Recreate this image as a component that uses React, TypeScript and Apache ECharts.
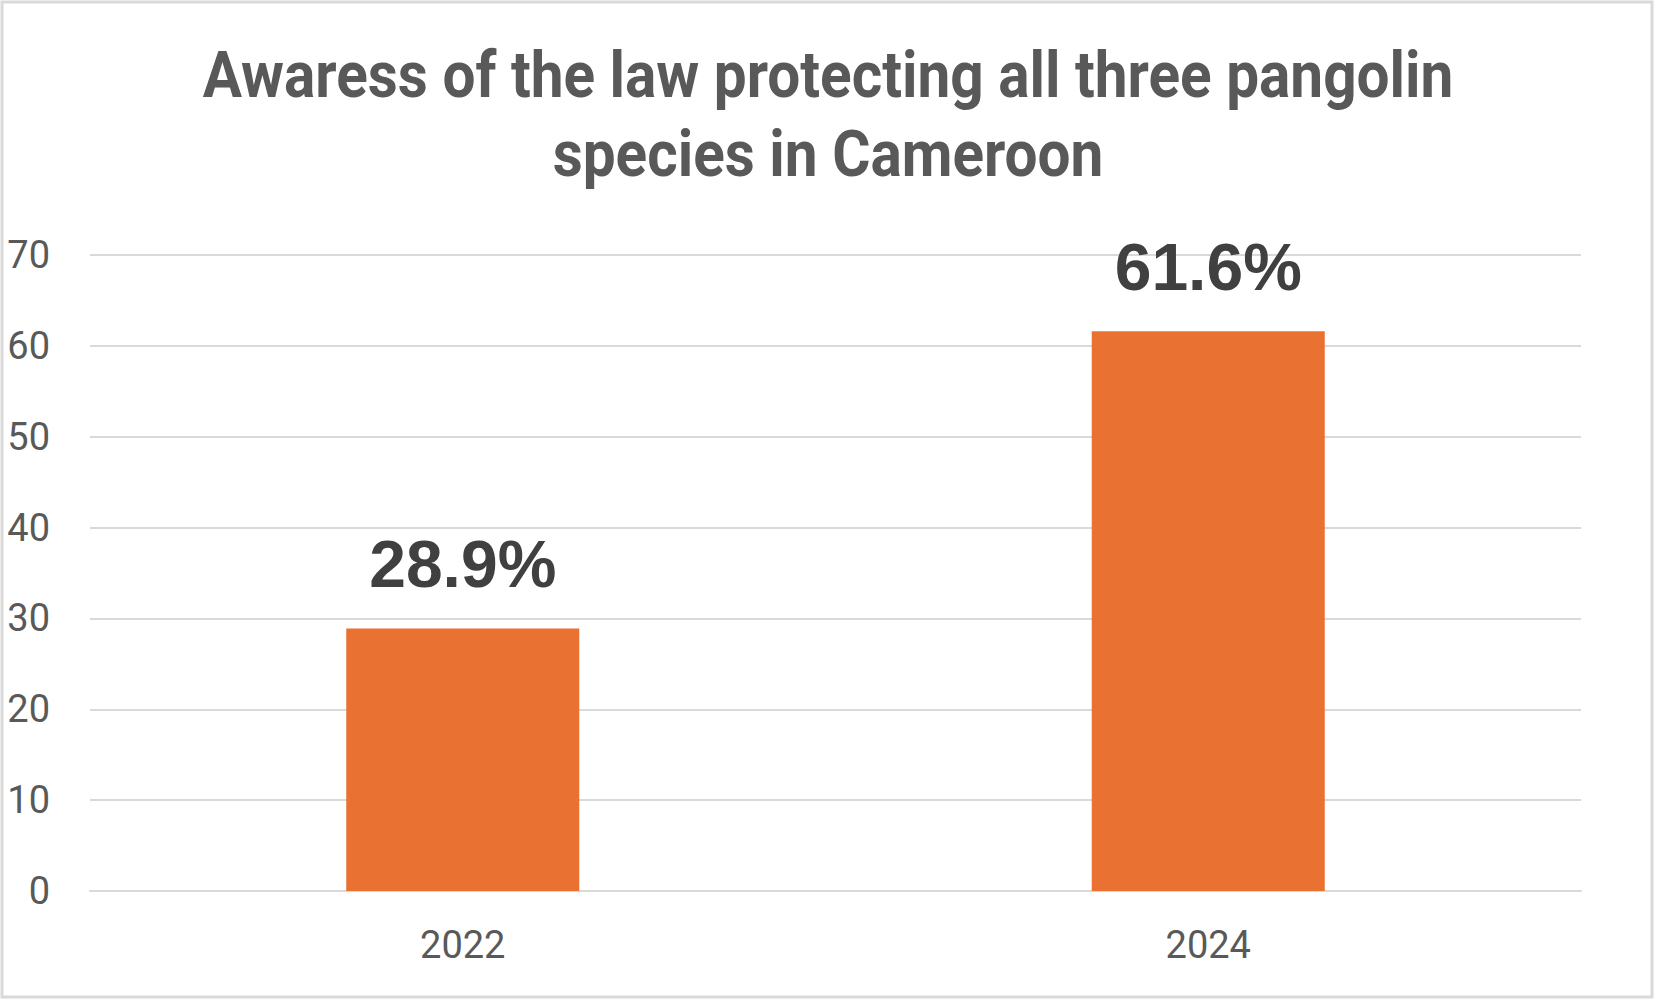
import React, { useEffect, useRef } from "react";
import * as echarts from "echarts";

const categories = ["2022", "2024"];
const awareness = [28.9, 61.6];
const yTicks = { min: 0, max: 70, interval: 10 };
const titleLines = ["Awaress of the law protecting all three pangolin", "species in Cameroon"];

export default function App() {
  const ref = useRef<HTMLDivElement>(null);
  useEffect(() => {
    document.body.style.margin = "0";
    const chart = echarts.init(ref.current!, undefined, { renderer: "svg" });
    const titleStyle = {
      fontFamily: "Roboto",
      fontWeight: "bold",
      fontSize: 65,
      fill: "#595959",
      textAlign: "center",
      textVerticalAlign: "middle",
    };
    chart.setOption({
      animation: false,
      backgroundColor: "#ffffff",
      graphic: [
        {
          type: "rect",
          shape: { x: 2, y: 2, width: 1650, height: 995 },
          style: { fill: "none", stroke: "#D9D9D9", lineWidth: 3 },
          silent: true,
        },
        {
          type: "text",
          x: 828,
          y: 75,
          scaleX: 0.9,
          style: { ...titleStyle, text: titleLines[0] },
        },
        {
          type: "text",
          x: 828,
          y: 154,
          scaleX: 0.9,
          style: { ...titleStyle, text: titleLines[1] },
        },
      ],
      grid: { left: 90, right: 78, top: 255, bottom: 108, containLabel: false },
      xAxis: {
        type: "category",
        data: categories,
        axisLine: { show: true, lineStyle: { color: "#D9D9D9", width: 2 } },
        axisTick: { show: false },
        axisLabel: {
          margin: 35,
          fontSize: 38,
          color: "#595959",
          fontFamily: "Roboto",
        },
      },
      yAxis: {
        type: "value",
        min: yTicks.min,
        max: yTicks.max,
        interval: yTicks.interval,
        axisLine: { show: false },
        axisTick: { show: false },
        splitLine: { show: true, lineStyle: { color: "#D9D9D9", width: 2 } },
        axisLabel: {
          margin: 40,
          fontSize: 38,
          color: "#595959",
          fontFamily: "Roboto",
        },
      },
      series: [
        {
          type: "bar",
          data: awareness,
          barWidth: 233,
          itemStyle: { color: "#E97132" },
          label: {
            show: true,
            position: "top",
            distance: 31,
            formatter: (p: any) => `${p.value.toFixed(1)}%`,
            fontFamily: "Liberation Sans",
            fontWeight: "bold",
            fontSize: 66,
            color: "#404040",
          },
        },
      ],
    });
    return () => chart.dispose();
  }, []);
  return <div ref={ref} style={{ width: 1659, height: 999 }} />;
}
